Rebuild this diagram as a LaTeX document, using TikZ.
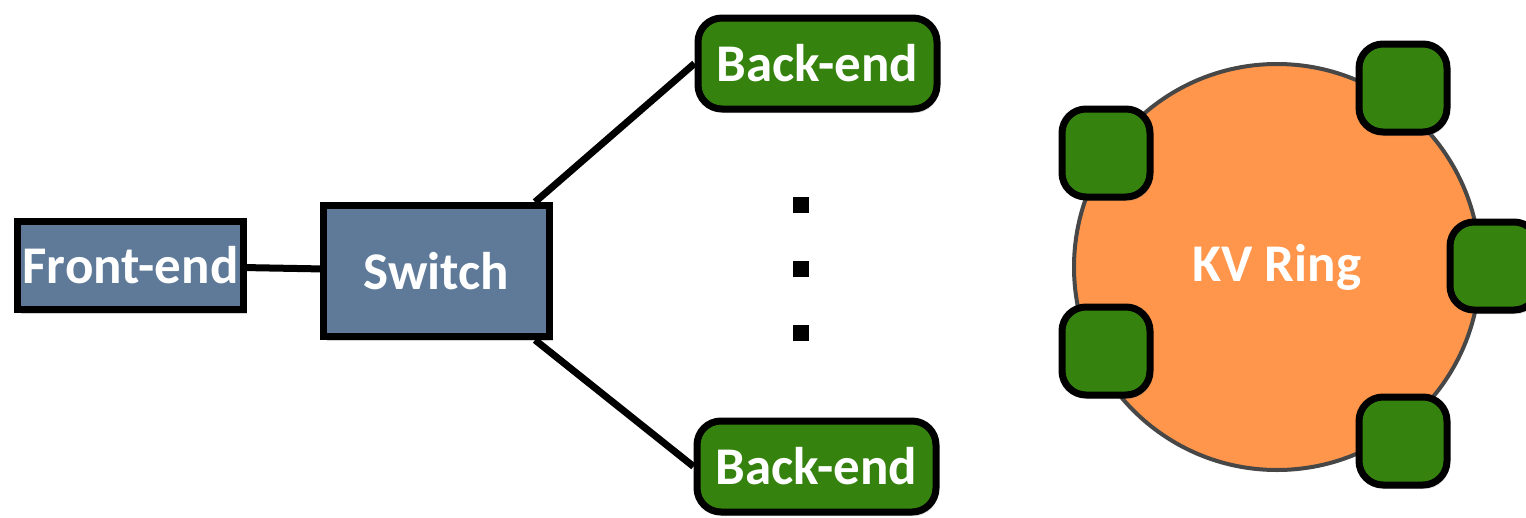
\documentclass[tikz,border=0pt]{standalone}
\usepackage{fontspec}
\setmainfont{Carlito}
\usetikzlibrary{positioning,shadows}

\definecolor{slate}{RGB}{94,122,152}
\definecolor{leaf}{RGB}{53,130,14}
\definecolor{peach}{RGB}{255,150,75}

\begin{document}
\begin{tikzpicture}[x=1pt,y=-1pt,
                box/.style={rectangle,draw=black,line width=7pt,fill=slate,text=white,
                    font=\bfseries\fontsize{53}{60}\selectfont,
                    drop shadow={shadow xshift=3pt,shadow yshift=-4pt,opacity=0.35}},
                backend/.style={rectangle,rounded corners=24pt,draw=black,line width=7pt,fill=leaf,text=white,
                    minimum width=239,minimum height=91,
                    font=\bfseries\fontsize{53}{60}\selectfont,
                    drop shadow={shadow xshift=2pt,shadow yshift=-4pt,opacity=0.3}},
                shard/.style={rectangle,rounded corners=24pt,draw=black,line width=7pt,fill=leaf,
                    minimum size=88,
                    drop shadow={shadow xshift=2pt,shadow yshift=-4pt,opacity=0.25}},
                dot/.style={rectangle,fill=black,minimum size=16,inner sep=0pt},
                link/.style={line width=7pt}
            ]
                \useasboundingbox (0,0) rectangle (1526,517);

                \node[box,minimum width=226,minimum height=88] (front) at (130.5,265.5) {Front-end};
                \node[box,minimum width=226,minimum height=131] (switch) at (436.5,271) {Switch};
                \node[backend] (backtop) at (817.5,63.5) {Back-end};
                \node[backend] (backbot) at (816.5,466.5) {Back-end};

                \foreach \i/\y in {1/205,2/269,3/333}
                    {
                    \node[dot] (dot\i) at (801,\y) { };
                    }

                \draw[link] (front) -- (switch);
                \draw[link] (switch.35) -- (backtop.west);
                \draw[link] (switch.-35) -- (backbot.west);

% the ring and its shards
                \node[circle,draw=black!72,line width=4pt,fill=peach,minimum size=406,text=white,
                    font=\bfseries\fontsize{53}{60}\selectfont] (ring) at (1277,267) {KV Ring};
                \foreach \i/\x/\y in {1/1403/88,2/1106/153,3/1494/266,4/1106/351,5/1403/441}
                    {
                    \node[shard] (shard\i) at (\x,\y) { };
                    }

            \end{tikzpicture}
\end{document}
